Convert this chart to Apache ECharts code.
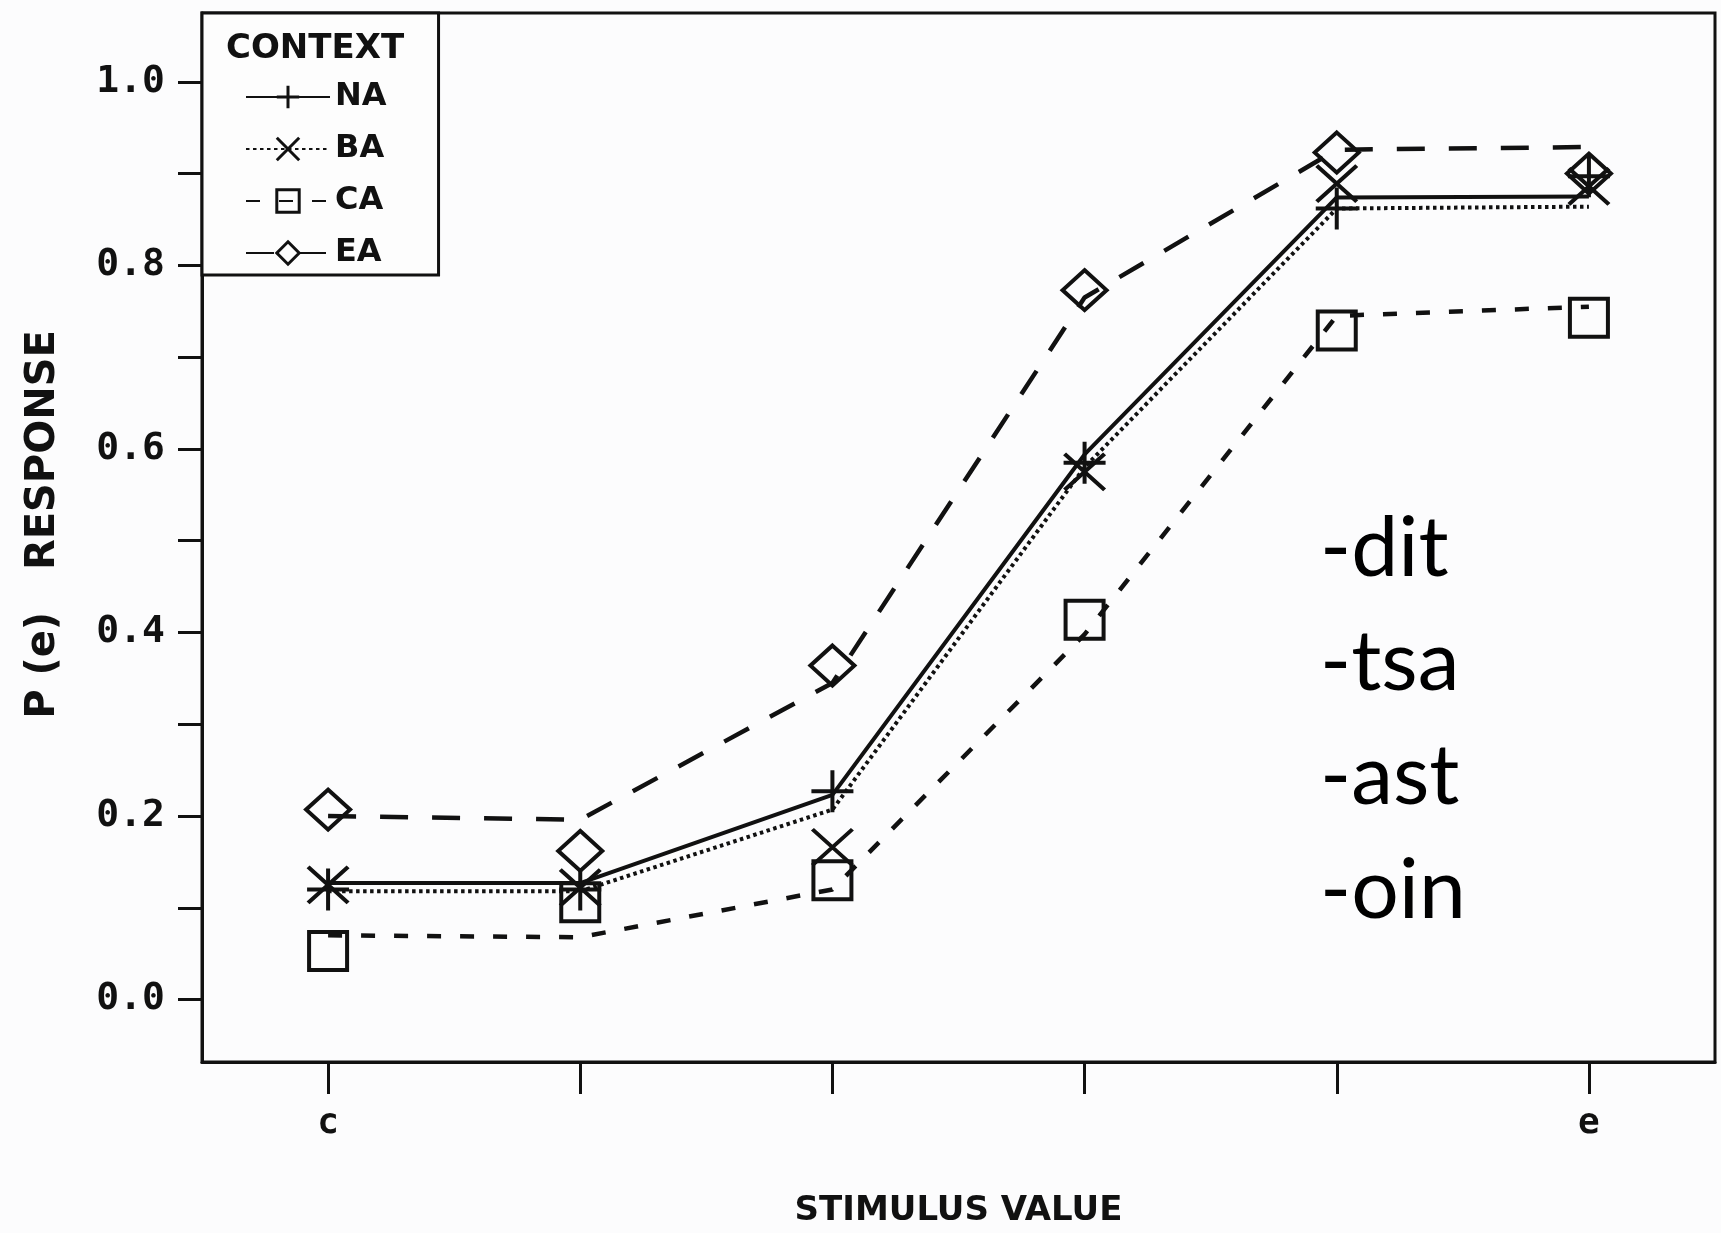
<!DOCTYPE html>
<html>
<head>
<meta charset="utf-8">
<script src="https://cdn.jsdelivr.net/npm/echarts@6/dist/echarts.min.js"></script>
<style>
  html, body { margin: 0; padding: 0; background: #fcfcfd; }
  #chart { width: 1721px; height: 1233px; }
</style>
</head>
<body>
<div id="chart"></div>
<script>
// Stimulus continuum: only the two endpoints are labelled
const stimulusLabels = ['c', '', '', '', '', 'e'];
const contexts = ['NA', 'BA', 'CA', 'EA'];

// Observed proportions of /e/ responses (markers)
const obsNA = [0.120, 0.120, 0.227, 0.585, 0.862, 0.897];
const obsBA = [0.125, 0.122, 0.166, 0.575, 0.889, 0.886];
const obsCA = [0.053, 0.106, 0.130, 0.414, 0.729, 0.743];
const obsEA = [0.207, 0.162, 0.364, 0.773, 0.923, 0.900];

// Model predictions (lines)
const fitNA = [0.127, 0.127, 0.223, 0.594, 0.874, 0.875];
const fitBA = [0.118, 0.118, 0.207, 0.580, 0.862, 0.864];
const fitCA = [0.070, 0.068, 0.120, 0.398, 0.745, 0.755];
const fitEA = [0.200, 0.196, 0.345, 0.765, 0.926, 0.929];

// Y axis ticks (every 0.1) and labels (every 0.2)
const yTickValues = [0, 0.1, 0.2, 0.3, 0.4, 0.5, 0.6, 0.7, 0.8, 0.9, 1.0];
const yLabelValues = [0, 0.2, 0.4, 0.6, 0.8, 1.0];

// Side notes
const notes = ['-dit', '-tsa', '-ast', '-oin'];

const INK = '#111';
const labelFont = 'DejaVu Sans Mono';
const textFont = 'DejaVu Sans';

const markerStyle = { color: 'rgba(0,0,0,0)', borderColor: INK, borderWidth: 4, opacity: 1 };

const styles = {
  NA: { line: { color: INK, width: 4, type: 'solid' },
        symbol: 'path://M0,21 L42,21 M21,0 L21,42', size: 42 },
  BA: { line: { color: INK, width: 4, type: [3.5, 3.5] },
        symbol: 'path://M0,0 L40,36 M40,0 L0,36', size: [40, 36] },
  CA: { line: { color: INK, width: 4.5, type: [14, 19] },
        symbol: 'rect', size: 38 },
  EA: { line: { color: INK, width: 4.5, type: [28, 24] },
        symbol: 'diamond', size: [44, 40] }
};

const fits = { NA: fitNA, BA: fitBA, CA: fitCA, EA: fitEA };
const obs = { NA: obsNA, BA: obsBA, CA: obsCA, EA: obsEA };

const series = [];
contexts.forEach(function (name) {
  const s = styles[name];
  series.push({
    name: name,
    type: 'line',
    data: fits[name],
    symbol: s.symbol,
    symbolSize: s.size,
    showSymbol: false,
    lineStyle: s.line,
    itemStyle: markerStyle,
    z: 2,
    silent: true
  });
});
contexts.forEach(function (name) {
  const s = styles[name];
  series.push({
    name: name,
    type: 'scatter',
    data: obs[name],
    symbol: s.symbol,
    symbolSize: s.size,
    itemStyle: markerStyle,
    z: 3,
    silent: true
  });
});

const chart = echarts.init(document.getElementById('chart'), null, { renderer: 'canvas' });

chart.setOption({
  backgroundColor: '#fcfcfd',
  animation: false,
  title: {
    text: 'CONTEXT',
    left: 226,
    top: 32,
    padding: 0,
    z: 10,
    textStyle: { fontFamily: textFont, fontWeight: 'bold', fontSize: 34, color: INK }
  },
  legend: {
    data: contexts,
    orient: 'vertical',
    left: 202,
    top: 13,
    padding: [68, 52, 6, 43],
    itemWidth: 84,
    itemHeight: 28,
    itemGap: 20,
    backgroundColor: '#fdfdfd',
    borderColor: INK,
    borderWidth: 3,
    borderRadius: 0,
    selectedMode: false,
    itemStyle: { color: 'rgba(0,0,0,0)', borderColor: INK, borderWidth: 3, opacity: 1 },
    textStyle: { fontFamily: textFont, fontWeight: 'bold', fontSize: 32, color: INK, lineHeight: 32 }
  },
  grid: {
    left: 202,
    right: 6,
    top: 13,
    bottom: 168,
    show: true,
    borderColor: INK,
    borderWidth: 3,
    backgroundColor: 'rgba(0,0,0,0)'
  },
  xAxis: {
    type: 'category',
    data: stimulusLabels,
    boundaryGap: true,
    name: 'STIMULUS VALUE',
    nameLocation: 'middle',
    nameGap: 132,
    nameTextStyle: { fontFamily: textFont, fontWeight: 'bold', fontSize: 34, color: INK },
    axisLine: { show: true, onZero: false, lineStyle: { color: INK, width: 3 } },
    axisTick: { show: true, alignWithLabel: true, interval: 0, length: 32, lineStyle: { color: INK, width: 3 } },
    axisLabel: { interval: 0, margin: 44, fontFamily: labelFont, fontWeight: 'bold', fontSize: 36, color: INK },
    splitLine: { show: false }
  },
  yAxis: {
    type: 'value',
    min: -0.068,
    max: 1.075,
    name: 'P (e)   RESPONSE',
    nameLocation: 'middle',
    nameRotate: 90,
    nameGap: 138,
    nameTextStyle: { fontFamily: textFont, fontWeight: 'bold', fontSize: 40, color: INK, padding: [0, 0, 0, 26] },
    axisLine: { show: true, lineStyle: { color: INK, width: 3 } },
    axisTick: { show: true, length: 24, customValues: yTickValues, lineStyle: { color: INK, width: 3 } },
    axisLabel: {
      customValues: yLabelValues,
      margin: 37,
      fontFamily: labelFont,
      fontWeight: 'bold',
      fontSize: 38,
      color: INK,
      formatter: function (v) { return v.toFixed(1); }
    },
    splitLine: { show: false }
  },
  graphic: [{
    type: 'text',
    left: 1320,
    top: 492,
    z: 20,
    style: {
      text: notes.join('\n'),
      fontFamily: 'Lato',
      fontSize: 84,
      lineHeight: 114,
      fill: '#000'
    }
  }],
  series: series
});
</script>
</body>
</html>
